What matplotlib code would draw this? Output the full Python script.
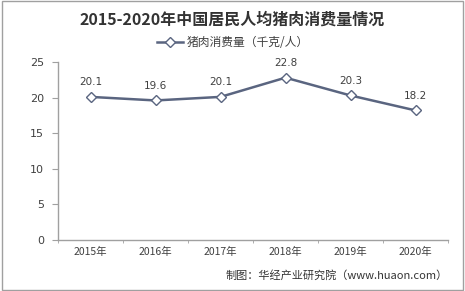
import matplotlib
matplotlib.use("Agg")
import matplotlib.pyplot as plt
from matplotlib.patches import Rectangle

plt.rcParams['font.family'] = ['Noto Sans CJK SC', 'DejaVu Sans']

years = ['2015年', '2016年', '2017年', '2018年', '2019年', '2020年']
values = [20.1, 19.6, 20.1, 22.8, 20.3, 18.2]
yticks = [0, 5, 10, 15, 20, 25]
title = '2015-2020年中国居民人均猪肉消费量情况'
series_name = '猪肉消费量（千克/人）'
source = '制图：华经产业研究院（www.huaon.com）'

fig = plt.figure(figsize=(4.65, 2.91), dpi=100)
fig.patch.set_facecolor('white')
fig.add_artist(Rectangle((0.004, 0.004), 0.992, 0.992, transform=fig.transFigure,
                         fill=False, edgecolor='#a0a0a0', linewidth=1.0))

ax = fig.add_axes([58/465, 1-240/291, 390/465, 178/291])
x = list(range(len(years)))
line_color = '#5a6580'
ax.plot(x, values, color=line_color, linewidth=1.8, marker='D', markersize=5.5,
        markerfacecolor='white', markeredgecolor=line_color, markeredgewidth=1.0,
        label=series_name)
for xi, v in zip(x, values):
    ax.annotate(f'{v:.1f}', (xi, v), xytext=(0, 7), textcoords='offset points',
                ha='center', va='bottom', fontsize=7.5, color='#404040', family='DejaVu Sans')

ax.set_xlim(-0.5, len(years) - 0.5)
ax.set_ylim(0, 25)
ax.set_yticks(yticks)
ax.set_yticklabels([str(t) for t in yticks], fontsize=8, color='#404040', family='DejaVu Sans')
ax.set_xticks(x)
ax.set_xticklabels(years, fontsize=7.5, color='#404040')
ax.tick_params(axis='x', length=0, pad=5)
ax.set_xticks([i + 0.5 for i in range(-1, len(years))], minor=True)
ax.tick_params(axis='x', which='minor', length=2.5, color='#a0a0a0', direction='out')
ax.tick_params(axis='y', length=4, color='#a0a0a0', direction='out', pad=6)
for s in ['top', 'right']:
    ax.spines[s].set_visible(False)
for s in ['left', 'bottom']:
    ax.spines[s].set_color('#a0a0a0')
    ax.spines[s].set_linewidth(1.0)

fig.text(0.5, 1-20/291, title, ha='center', va='center', fontsize=11.5,
         fontweight='bold', color='#333333')
leg = fig.legend(loc='center', bbox_to_anchor=(0.5, 1-43/291), frameon=False,
                 fontsize=8.5, handlelength=2.2, handletextpad=0.3)
for t in leg.get_texts():
    t.set_color('#404040')
fig.text(448/465, 1-275/291, source, ha='right', va='center', fontsize=8, color='#333333')

fig.savefig('out.png', dpi=100)
